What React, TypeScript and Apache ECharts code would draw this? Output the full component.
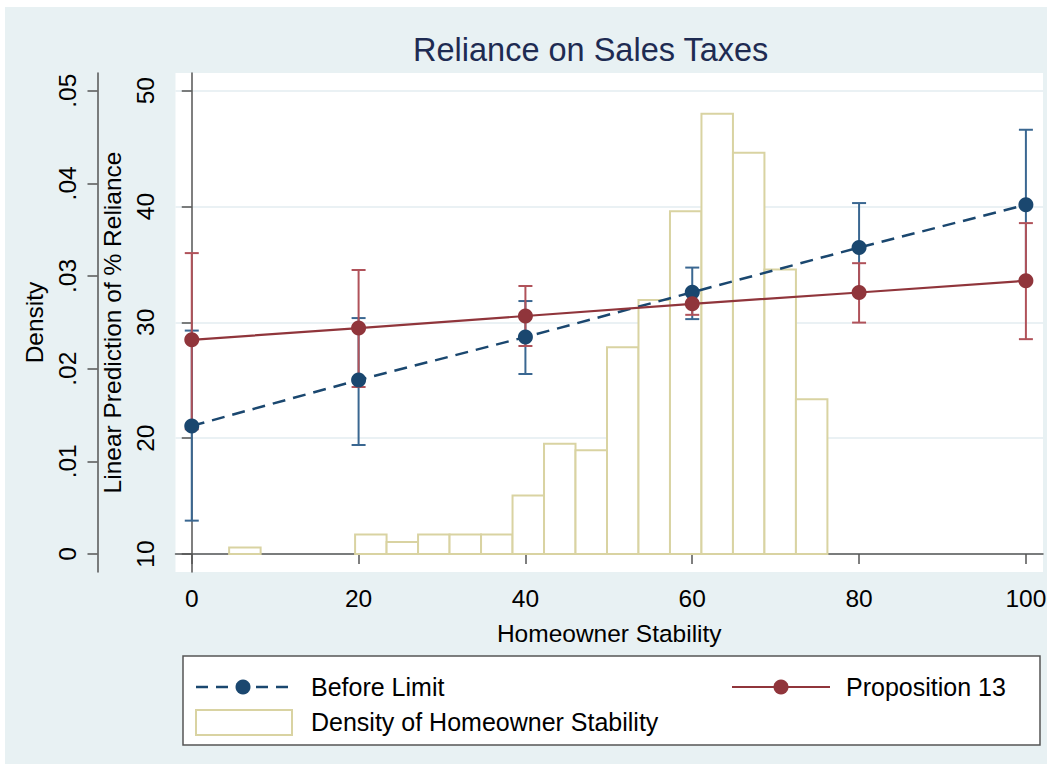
import React, { useEffect, useRef } from "react";
import * as echarts from "echarts";

// ---- Tick values / labels ----
const xTicks = [0, 20, 40, 60, 80, 100];
const predTicks = [10, 20, 30, 40, 50];
const densityTicks = [0, 0.01, 0.02, 0.03, 0.04, 0.05];
const densityTickLabels = ["0", ".01", ".02", ".03", ".04", ".05"];

// ---- Margins (linear predictions with 95% CIs) ----
const atValues = [0, 20, 40, 60, 80, 100];
const beforeLimit = [21.06, 25.02, 28.73, 32.6, 36.46, 40.15];
const beforeLimitLo = [12.88, 19.41, 25.54, 30.28, 32.62, 33.67];
const beforeLimitHi = [29.29, 30.37, 31.84, 34.73, 40.3, 46.63];
const prop13 = [28.49, 29.51, 30.55, 31.6, 32.58, 33.59];
const prop13Lo = [20.77, 24.42, 27.96, 30.65, 29.98, 28.55];
const prop13Hi = [35.98, 34.52, 33.14, 32.55, 35.11, 38.57];

// ---- Histogram of homeowner stability ----
const binStart = 4.48;
const binWidth = 3.775;
const densities = [
  0.0007, 0, 0, 0, 0.0021, 0.0013, 0.0021, 0.0021, 0.0021, 0.0063, 0.0119,
  0.0112, 0.0223, 0.0274, 0.037, 0.0475, 0.0433, 0.0307, 0.0167,
];

const FONT = "'Liberation Sans', Arial, Helvetica, sans-serif";
const BLUE = "#1A476F";
const BLUE_CI = "#3A6791";
const RED = "#90353B";
const RED_CI = "#B0525A";
const SAND = "#D9D3A2";
const AXIS = "#555555";

function errorBarRender(color: string) {
  return (params: any, api: any) => {
    const x = api.value(0);
    const lo = api.value(1);
    const hi = api.value(2);
    const top = api.coord([x, hi]);
    const bot = api.coord([x, lo]);
    const hw = 7;
    const st = { stroke: color, lineWidth: 2 };
    return {
      type: "group",
      children: [
        { type: "line", shape: { x1: top[0], y1: top[1], x2: bot[0], y2: bot[1] }, style: st },
        { type: "line", shape: { x1: top[0] - hw, y1: top[1], x2: top[0] + hw, y2: top[1] }, style: st },
        { type: "line", shape: { x1: bot[0] - hw, y1: bot[1], x2: bot[0] + hw, y2: bot[1] }, style: st },
      ],
    };
  };
}

export default function App() {
  const ref = useRef<HTMLDivElement>(null);

  useEffect(() => {
    document.body.style.margin = "0";
    if (!ref.current) return;
    const chart = echarts.init(ref.current, undefined, { renderer: "svg" });

    const histData = densities.map((d, i) => [
      binStart + i * binWidth,
      binStart + (i + 1) * binWidth,
      d,
    ]);
    const blData = atValues.map((x, i) => [x, beforeLimit[i]]);
    const p13Data = atValues.map((x, i) => [x, prop13[i]]);
    const blCI = atValues.map((x, i) => [x, beforeLimitLo[i], beforeLimitHi[i]]);
    const p13CI = atValues.map((x, i) => [x, prop13Lo[i], prop13Hi[i]]);

    const axisLineStyle = { color: AXIS, width: 1.5 };
    const labelStyle = { fontSize: 24.5, color: "#000", fontFamily: FONT };

    const lx = 183, ly = 656;
    const option: any = {
      animation: false,
      backgroundColor: "transparent",
      textStyle: { fontFamily: FONT },
      title: {
        text: "Reliance on Sales Taxes",
        left: 413,
        top: 33,
        padding: 0,
        textStyle: { fontSize: 32.5, fontWeight: "normal", color: "#1E2B52", fontFamily: FONT },
      },
      grid: {
        left: 175.5,
        right: 7,
        top: 73,
        bottom: 197,
        show: true,
        backgroundColor: "#ffffff",
        borderWidth: 0,
        containLabel: false,
      },
      xAxis: {
        type: "value",
        min: -1.95,
        max: 102.05,
        axisLine: { show: true, lineStyle: axisLineStyle },
        axisTick: { show: true, customValues: xTicks, length: 10, lineStyle: axisLineStyle },
        axisLabel: { customValues: xTicks, margin: 14, ...labelStyle },
        splitLine: { show: false },
        name: "Homeowner Stability",
        nameLocation: "middle",
        nameGap: 49,
        nameTextStyle: labelStyle,
      },
      yAxis: [
        {
          type: "value",
          position: "left",
          min: 8.446,
          max: 51.53,
          axisLine: { show: true, lineStyle: axisLineStyle },
          axisTick: { show: true, customValues: predTicks, length: 10, lineStyle: axisLineStyle },
          axisLabel: { customValues: predTicks, rotate: 90, margin: 18, ...labelStyle },
          splitLine: { show: true, lineStyle: { color: "#E3EDF0", width: 1.5 } },
          name: "Linear Prediction of % Reliance",
          nameLocation: "middle",
          nameGap: 47,
          nameTextStyle: labelStyle,
        },
        {
          type: "value",
          position: "left",
          offset: 78,
          min: -0.001943,
          max: 0.05191,
          axisLine: { show: true, lineStyle: axisLineStyle },
          axisTick: { show: true, customValues: densityTicks, length: 10, lineStyle: axisLineStyle },
          axisLabel: {
            customValues: densityTicks,
            rotate: 90,
            margin: 18,
            ...labelStyle,
            formatter: (v: number) => {
              const i = densityTicks.findIndex((t) => Math.abs(t - v) < 1e-9);
              return i >= 0 ? densityTickLabels[i] : "";
            },
          },
          splitLine: { show: false },
          name: "Density",
          nameLocation: "middle",
          nameGap: 46,
          nameTextStyle: labelStyle,
        },
      ],
      series: [
        {
          name: "Density of Homeowner Stability",
          type: "custom",
          xAxisIndex: 0,
          yAxisIndex: 1,
          z: 1,
          data: histData,
          encode: { x: [0, 1], y: 2 },
          renderItem: (params: any, api: any) => {
            const d = api.value(2);
            if (!d) return { type: "group", children: [] };
            const p0 = api.coord([api.value(0), d]);
            const p1 = api.coord([api.value(1), 0]);
            return {
              type: "rect",
              shape: { x: p0[0], y: p0[1], width: p1[0] - p0[0], height: p1[1] - p0[1] },
              style: { fill: "#ffffff", stroke: SAND, lineWidth: 2 },
            };
          },
        },
        {
          name: "Before Limit CI",
          type: "custom",
          yAxisIndex: 0,
          z: 2,
          data: blCI,
          encode: { x: 0, y: [1, 2] },
          renderItem: errorBarRender(BLUE_CI),
        },
        {
          name: "Proposition 13 CI",
          type: "custom",
          yAxisIndex: 0,
          z: 2,
          data: p13CI,
          encode: { x: 0, y: [1, 2] },
          renderItem: errorBarRender(RED_CI),
        },
        {
          name: "Before Limit",
          type: "line",
          yAxisIndex: 0,
          z: 3,
          data: blData,
          symbol: "circle",
          symbolSize: 15,
          itemStyle: { color: BLUE },
          lineStyle: { color: BLUE, width: 2.5, type: [13, 8] },
        },
        {
          name: "Proposition 13",
          type: "line",
          yAxisIndex: 0,
          z: 4,
          data: p13Data,
          symbol: "circle",
          symbolSize: 15,
          itemStyle: { color: RED },
          lineStyle: { color: RED, width: 2.2 },
        },
      ],
      graphic: [
        {
          type: "rect",
          shape: { x: lx, y: ly, width: 857, height: 89 },
          style: { fill: "#ffffff", stroke: AXIS, lineWidth: 1.5 },
        },
        {
          type: "line",
          shape: { x1: 196, y1: 687, x2: 295, y2: 687 },
          style: { stroke: BLUE, lineWidth: 2.5, lineDash: [12, 8] },
        },
        { type: "circle", shape: { cx: 243, cy: 687, r: 7.5 }, style: { fill: BLUE } },
        {
          type: "text",
          x: 311,
          y: 687,
          style: { text: "Before Limit", fontSize: 25, fontFamily: FONT, fill: "#000", textVerticalAlign: "middle" },
        },
        {
          type: "line",
          shape: { x1: 732, y1: 687, x2: 830, y2: 687 },
          style: { stroke: RED, lineWidth: 2.2 },
        },
        { type: "circle", shape: { cx: 781, cy: 687, r: 7.5 }, style: { fill: RED } },
        {
          type: "text",
          x: 846,
          y: 687,
          style: { text: "Proposition 13", fontSize: 25, fontFamily: FONT, fill: "#000", textVerticalAlign: "middle" },
        },
        {
          type: "rect",
          shape: { x: 196, y: 710, width: 96, height: 25 },
          style: { fill: "#ffffff", stroke: SAND, lineWidth: 2 },
        },
        {
          type: "text",
          x: 311,
          y: 722,
          style: {
            text: "Density of Homeowner Stability",
            fontSize: 25,
            fontFamily: FONT,
            fill: "#000",
            textVerticalAlign: "middle",
          },
        },
      ],
    };

    chart.setOption(option);
    return () => chart.dispose();
  }, []);

  return (
    <div style={{ position: "relative", width: 1050, height: 769, background: "#ffffff" }}>
      <div
        style={{
          position: "absolute",
          left: 5,
          top: 7,
          width: 1042,
          height: 757,
          background: "#E8F1F3",
        }}
      />
      <div ref={ref} style={{ position: "absolute", left: 0, top: 0, width: 1050, height: 769 }} />
    </div>
  );
}
